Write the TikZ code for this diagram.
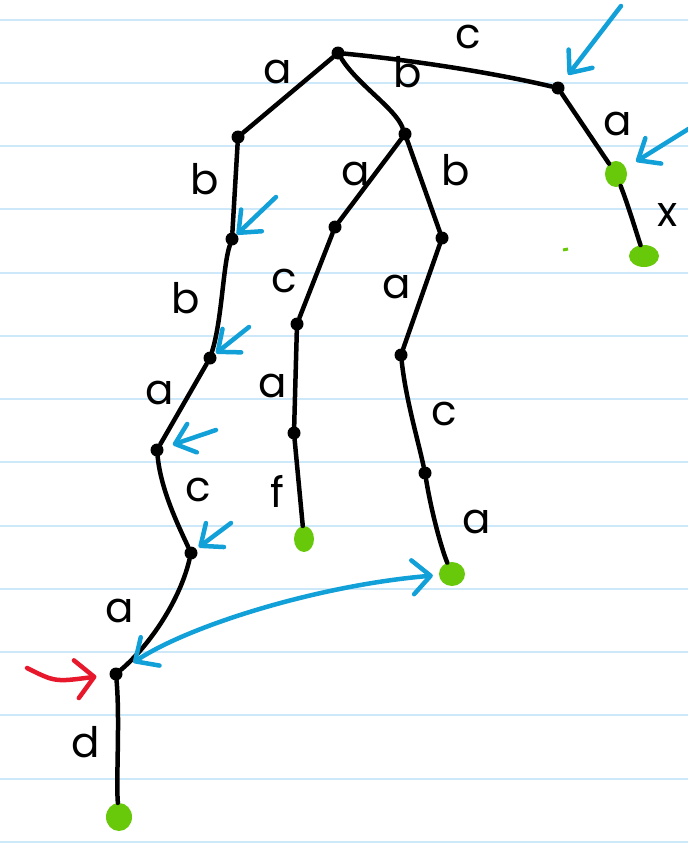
\documentclass[tikz,border=0pt]{standalone}
\usepackage{fontspec}
\setmainfont{Poppins}
\usetikzlibrary{arrows.meta,shapes.geometric}
\definecolor{rulecol}{RGB}{205,232,248}
\definecolor{inkblue}{RGB}{18,160,216}
\definecolor{inkgreen}{RGB}{104,200,10}
\definecolor{inkred}{RGB}{232,24,44}
\begin{document}
\begin{tikzpicture}[x=1pt,y=-1pt,
  edge/.style={line width=4.5pt, line cap=round, line join=round},
  dot/.style={circle, fill=black, inner sep=0pt, minimum size=13pt},
  leaf/.style={ellipse, fill=inkgreen, inner sep=0pt, minimum width=24pt, minimum height=24pt},
  lbl/.style={font=\fontsize{42}{48}\selectfont, inner sep=0pt},
  hint/.style={inkblue, line width=4.5pt, line cap=round, -{Straight Barb[length=18pt,width=30pt,round]}},
  both/.style={inkblue, line width=4.5pt, line cap=round, {Straight Barb[length=18pt,width=34pt,round]}-{Straight Barb[length=18pt,width=34pt,round]}},
  redarrow/.style={inkred, line width=4.5pt, line cap=round, -{Straight Barb[length=18pt,width=38pt,round]}}
]
\useasboundingbox (0,0) rectangle (688,846);
\fill[white] (0,0) rectangle (688,846);
\foreach \k in {0,...,13} \draw[rulecol, line width=2pt] (0,{19.5+63.25*\k}) -- (688,{19.5+63.25*\k});

% nodes
\node[dot] (r) at (338,53) {};
\node[dot] (c1) at (558,88) {};
\node[leaf, minimum width=22pt, minimum height=26pt] (ga1) at (616,174) {};
\node[leaf, minimum width=30pt, minimum height=22pt] (gx) at (644,256) {};
\node[dot] (la) at (238,137) {};
\node[dot] (lb) at (232,239) {};
\node[dot] (lb2) at (210,358) {};
\node[dot] (la2) at (157,450) {};
\node[dot] (lc) at (191,553) {};
\node[dot] (na) at (116,674) {};
\node[leaf, minimum width=26pt, minimum height=28pt] (gd) at (119,817) {};
\node[dot] (rb) at (405,134) {};
\node[dot] (ma) at (335,227) {};
\node[dot] (mc) at (297,324) {};
\node[dot] (ma2) at (294,433) {};
\node[leaf, minimum width=20pt, minimum height=26pt] (gf) at (304,539) {};
\node[dot] (rb2) at (442,238) {};
\node[dot] (ra) at (401,355) {};
\node[dot] (rc) at (425,473) {};
\node[leaf, minimum width=26pt, minimum height=24pt] (ga) at (452,574) {};

% edges
\draw[edge] (r) .. controls (410,60) and (490,72) .. (c1);
\draw[edge] (c1) -- (ga1);
\draw[edge] (ga1) .. controls (628,205) and (634,225) .. (gx);
\draw[edge] (r) -- (la);
\draw[edge] (la) -- (lb);
\draw[edge] (lb) .. controls (223,265) and (222,320) .. (lb2);
\draw[edge] (lb2) -- (la2);
\draw[edge] (la2) .. controls (161,490) and (178,525) .. (lc);
\draw[edge] (lc) .. controls (180,600) and (150,645) .. (na);
\draw[edge] (na) .. controls (120,720) and (116,780) .. (gd);
\draw[edge] (r) .. controls (358,85) and (395,108) .. (rb);
\draw[edge] (rb) -- (ma);
\draw[edge] (ma) -- (mc);
\draw[edge] (mc) -- (ma2);
\draw[edge] (ma2) -- (gf);
\draw[edge] (rb) -- (rb2);
\draw[edge] (rb2) -- (ra);
\draw[edge] (ra) .. controls (406,400) and (418,440) .. (rc);
\draw[edge] (rc) .. controls (432,515) and (442,550) .. (ga);

% edge labels
\node[lbl] (t1) at (278,72) {a};
\node[lbl] (t2) at (468,37) {c};
\node[lbl] (t3) at (408,72) {b};
\node[lbl] (t4) at (618,124) {a};
\node[lbl] (t5) at (668,215) {x};
\node[lbl] (t6) at (205,179) {b};
\node[lbl] (t7) at (356,174) {a};
\node[lbl] (t8) at (456,170) {b};
\node[lbl] (t9) at (186,298) {b};
\node[lbl] (t10) at (284,281) {c};
\node[lbl] (t11) at (397,287) {a};
\node[lbl] (t12) at (160,393) {a};
\node[lbl] (t13) at (273,386) {a};
\node[lbl] (t14) at (444,414) {c};
\node[lbl] (t15) at (198,490) {c};
\node[lbl] (t16) at (277,491) {f};
\node[lbl] (t17) at (477,522) {a};
\node[lbl] (t18) at (120,611) {a};
\node[lbl] (t19) at (86,742) {d};

% blue hint arrows
\coordinate (h1) at (621,6);
\coordinate (h2) at (690,128);
\coordinate (h3) at (276,197);
\coordinate (h4) at (249,327);
\coordinate (h5) at (216,430);
\coordinate (h6) at (231,523);
\draw[hint, shorten >=10pt] (h1) -- (c1);
\draw[hint, shorten >=12pt] (h2) -- (ga1);
\draw[hint, shorten >=0pt] (h3) -- (lb);
\draw[hint, shorten >=1pt] (h4) -- (lb2);
\draw[hint, shorten >=10pt] (h5) -- (la2);
\draw[hint, shorten >=3pt] (h6) -- (lc);

% double curved arrow
\draw[both, shorten <=14pt, shorten >=6pt] (na) .. controls (190,625) and (320,585) .. (ga);

% red arrow
\coordinate (rs) at (27,668);
\draw[redarrow, shorten >=13pt] (rs) .. controls (55,682) .. (na);

% stray green mark
\draw[inkgreen, line width=3pt] (563,250) -- (568,249);
\end{tikzpicture}
\end{document}
